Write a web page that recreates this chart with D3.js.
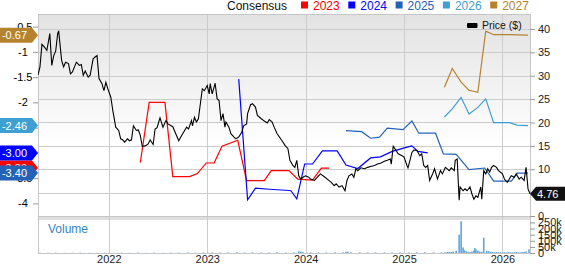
<!DOCTYPE html>
<html>
<head>
<meta charset="utf-8">
<script src="https://cdn.jsdelivr.net/npm/d3@7"></script>
<style>
  body { margin: 0; background: #fff; }
  svg { display: block; font-family: Arial, "Liberation Sans", sans-serif; }
</style>
</head>
<body>
<div id="chart"></div>
<script>
// price history (decimal year, $)
const priceDates = [
  2021.28, 2021.30, 2021.32, 2021.35, 2021.37, 2021.40, 2021.42, 2021.44, 2021.46, 2021.48,
  2021.49, 2021.52, 2021.54, 2021.56, 2021.59, 2021.61, 2021.63, 2021.67, 2021.70, 2021.72,
  2021.74, 2021.76, 2021.79, 2021.81, 2021.84, 2021.86, 2021.88, 2021.90, 2021.93, 2021.95,
  2021.97, 2021.99, 2022.02, 2022.04, 2022.07, 2022.10, 2022.12, 2022.14, 2022.16, 2022.19,
  2022.21, 2022.23, 2022.25, 2022.28, 2022.30, 2022.32, 2022.34, 2022.37, 2022.40, 2022.42,
  2022.45, 2022.47, 2022.49, 2022.52, 2022.55, 2022.58, 2022.60, 2022.65, 2022.68, 2022.71,
  2022.74, 2022.77, 2022.79, 2022.81, 2022.84, 2022.85, 2022.87, 2022.89, 2022.91, 2022.93,
  2022.95, 2022.97, 2023.00, 2023.02, 2023.03, 2023.05, 2023.07, 2023.08, 2023.10, 2023.12,
  2023.14, 2023.16, 2023.18, 2023.19, 2023.22, 2023.24, 2023.27, 2023.29, 2023.32, 2023.35,
  2023.37, 2023.40, 2023.41, 2023.44, 2023.46, 2023.49, 2023.51, 2023.55, 2023.58, 2023.61,
  2023.63, 2023.66, 2023.68, 2023.71, 2023.73, 2023.76, 2023.79, 2023.82, 2023.84, 2023.87,
  2023.89, 2023.91, 2023.93, 2023.95, 2023.98, 2024.00, 2024.03, 2024.05, 2024.09, 2024.12,
  2024.15, 2024.19, 2024.22, 2024.26, 2024.29, 2024.31, 2024.34, 2024.37, 2024.40, 2024.42,
  2024.44, 2024.47, 2024.49, 2024.51, 2024.53, 2024.56, 2024.60, 2024.63, 2024.66, 2024.70,
  2024.73, 2024.76, 2024.80, 2024.83, 2024.86, 2024.87, 2024.89, 2024.92, 2024.94, 2024.98,
  2025.00, 2025.03, 2025.04, 2025.06, 2025.08, 2025.10, 2025.13, 2025.16, 2025.18, 2025.20,
  2025.22, 2025.24, 2025.26, 2025.29, 2025.31, 2025.34, 2025.37, 2025.39, 2025.42, 2025.46,
  2025.48, 2025.51, 2025.52, 2025.54, 2025.56, 2025.57, 2025.60, 2025.62, 2025.64, 2025.67,
  2025.69, 2025.71, 2025.73, 2025.75, 2025.78, 2025.79, 2025.81, 2025.83, 2025.85, 2025.87,
  2025.89, 2025.91, 2025.94, 2025.96, 2026.00, 2026.02, 2026.05, 2026.07, 2026.09, 2026.12,
  2026.14, 2026.17, 2026.19, 2026.22, 2026.24, 2026.26, 2026.28
]
const priceValues = [
  30.2, 31.9, 36.7, 36.0, 35.4, 39.0, 32.2, 34.3, 35.3, 39.0,
  39.6, 33.3, 31.9, 32.9, 32.6, 30.4, 30.8, 32.9, 32.2, 32.4,
  30.1, 31.0, 29.7, 30.1, 33.6, 34.0, 34.3, 29.4, 28.3, 26.8,
  28.6, 27.2, 25.4, 22.6, 19.0, 18.3, 16.5, 16.3, 15.8, 16.5,
  16.1, 16.3, 19.3, 18.3, 18.4, 17.2, 14.9, 15.0, 15.4, 16.3,
  15.3, 18.6, 18.9, 21.0, 19.0, 20.4, 19.7, 19.1, 17.6, 16.1,
  17.2, 18.3, 19.0, 18.6, 20.4, 19.3, 21.1, 20.1, 20.8, 24.0,
  27.2, 26.8, 27.9, 26.1, 28.3, 26.1, 27.6, 28.4, 25.1, 24.7,
  20.4, 21.9, 19.0, 20.1, 19.0, 17.6, 16.9, 16.5, 16.9, 17.9,
  19.3, 19.7, 21.9, 23.8, 24.0, 23.3, 21.5, 20.8, 20.3, 19.9,
  20.6, 20.1, 19.0, 17.6, 17.0, 16.1, 15.1, 14.4, 11.9, 10.8,
  10.4, 11.9, 8.6, 7.9, 8.4, 8.6, 8.3, 7.9, 7.6, 8.3,
  9.0, 8.4, 7.9, 7.2, 6.5, 6.9, 6.2, 6.5, 5.4, 7.6,
  8.6, 9.0, 8.3, 10.1, 9.7, 10.3, 10.1, 10.4, 10.6, 10.8,
  11.1, 11.3, 11.7, 11.9, 12.2, 11.1, 14.9, 14.0, 13.3, 12.9,
  12.6, 10.8, 10.3, 11.9, 13.6, 14.1, 14.0, 12.9, 13.3, 10.8,
  10.4, 10.8, 7.6, 9.0, 10.1, 7.9, 9.7, 9.0, 10.4, 9.7,
  10.3, 9.7, 11.9, 12.2, 3.4, 6.2, 5.4, 5.8, 5.4, 6.2,
  4.7, 3.6, 4.3, 4.0, 6.2, 3.6, 9.7, 9.0, 10.1, 9.4,
  10.4, 10.8, 10.4, 9.7, 9.0, 7.9, 7.2, 7.9, 8.6, 8.3,
  9.0, 7.9, 8.3, 7.6, 10.4, 5.8, 4.76
]

// consensus EPS estimates per fiscal year
const est2023Dates = [2022.32, 2022.41, 2022.57, 2022.65, 2022.82, 2022.90, 2022.99, 2023.07, 2023.15, 2023.31, 2023.40, 2023.58, 2023.65, 2023.83, 2023.92, 2024.07, 2024.16, 2024.24]
const est2023Values = [-3.19, -2.00, -2.00, -3.47, -3.47, -3.41, -3.20, -3.20, -2.87, -2.75, -3.55, -3.55, -3.35, -3.35, -3.52, -3.54, -3.30, -3.30]
const est2024Dates = [2023.32, 2023.41, 2023.49, 2023.63, 2023.80, 2023.85, 2023.91, 2023.99, 2024.07, 2024.17, 2024.32, 2024.41, 2024.53, 2024.66, 2024.76, 2024.88, 2025.04, 2025.08, 2025.14, 2025.24]
const est2024Values = [-1.54, -3.93, -3.70, -3.72, -3.74, -3.75, -3.91, -3.22, -3.22, -2.96, -2.96, -3.24, -3.31, -3.10, -3.08, -2.97, -2.88, -2.86, -2.97, -3.00]
const est2025Dates = [2024.41, 2024.57, 2024.66, 2024.75, 2024.83, 2024.99, 2025.08, 2025.15, 2025.32, 2025.40, 2025.53, 2025.66, 2025.82, 2025.91, 2026.09, 2026.15, 2026.26]
const est2025Values = [-2.56, -2.58, -2.71, -2.69, -2.51, -2.54, -2.37, -2.61, -2.61, -3.02, -3.03, -3.33, -3.30, -3.56, -3.56, -3.40, -3.40]
const est2026Dates = [2025.41, 2025.49, 2025.58, 2025.66, 2025.75, 2025.83, 2025.91, 2026.07, 2026.15, 2026.26]
const est2026Values = [-2.29, -2.13, -1.90, -2.23, -2.10, -1.93, -2.40, -2.40, -2.45, -2.46]
const est2027Dates = [2025.41, 2025.49, 2025.58, 2025.66, 2025.75, 2025.83, 2025.91, 2026.07, 2026.26]
const est2027Values = [-1.70, -1.33, -1.60, -1.76, -1.80, -0.59, -0.66, -0.66, -0.67]

// volume (shares)
const volumeDates = [
  2021.30, 2021.38, 2021.46, 2021.55, 2021.63, 2021.71, 2021.80, 2021.88, 2021.96, 2022.05,
  2022.13, 2022.21, 2022.30, 2022.38, 2022.46, 2022.55, 2022.63, 2022.71, 2022.80, 2022.88,
  2022.96, 2023.05, 2023.13, 2023.21, 2023.30, 2023.38, 2023.46, 2023.55, 2023.63, 2023.71,
  2023.80, 2023.88, 2023.93, 2023.95, 2023.97, 2024.05, 2024.13, 2024.21, 2024.30, 2024.38,
  2024.41, 2024.43, 2024.46, 2024.55, 2024.63, 2024.71, 2024.80, 2024.88, 2024.96, 2025.05,
  2025.13, 2025.21, 2025.30, 2025.38, 2025.42, 2025.44, 2025.46, 2025.48, 2025.50, 2025.53,
  2025.56, 2025.58, 2025.60, 2025.61, 2025.63, 2025.65, 2025.67, 2025.69, 2025.71, 2025.72,
  2025.73, 2025.75, 2025.77, 2025.79, 2025.81, 2025.84, 2025.86, 2025.88, 2025.90, 2025.92,
  2025.94, 2025.96, 2025.98, 2026.00, 2026.02, 2026.04, 2026.06, 2026.08, 2026.10, 2026.12,
  2026.14, 2026.16, 2026.18, 2026.20, 2026.22, 2026.24, 2026.27
]
const volumeValues = [
  2000, 2000, 3000, 2000, 2000, 3000, 2000, 2000, 3000, 2000,
  3000, 2000, 3000, 2000, 3000, 2000, 3000, 3000, 4000, 3000,
  4000, 5000, 4000, 4000, 5000, 4000, 5000, 4000, 4000, 5000,
  4000, 5000, 15000, 12000, 8000, 5000, 5000, 4000, 5000, 5000,
  10000, 12000, 6000, 5000, 4000, 5000, 5000, 4000, 5000, 5000,
  5000, 6000, 5000, 6000, 6000, 8000, 10000, 8000, 12000, 20000,
  150000, 260000, 45000, 25000, 15000, 10000, 8000, 12000, 20000, 40000,
  30000, 20000, 12000, 10000, 125000, 18000, 15000, 10000, 8000, 6000,
  8000, 6000, 5000, 5000, 6000, 5000, 8000, 6000, 5000, 6000,
  8000, 6000, 5000, 8000, 10000, 12000, 30000
]

const yearTicks = [2022, 2023, 2024, 2025, 2026]
const priceTicks = [0, 5, 10, 15, 20, 25, 30, 35, 40]
const epsTicks = [-4, -3.5, -3, -2.5, -2, -1.5, -1, -0.5]
const volumeTicks = [0, 50000, 100000, 150000, 200000, 250000]
const consensusYears = ["2023", "2024", "2025", "2026", "2027"]
const consensusColors = ["#ff0000", "#0000ff", "#2462b8", "#3ea0d2", "#b5832e"]

const width = 565
const height = 264
const plotLeft = 38, plotRight = 530, plotTop = 14
const mainBottom = 216, volTop = 220, volBottom = 253

const x = d3.scaleLinear().domain([2021.28, 2026.28]).range([plotLeft, plotRight])
const yPrice = d3.scaleLinear().domain([0, 43.2]).range([mainBottom, plotTop])
const yEps = d3.scaleLinear().domain([-4.25, -0.25]).range([mainBottom, plotTop])
const yVol = d3.scaleLinear().domain([0, 270000]).range([volBottom, volTop])

const svg = d3.select("#chart").append("svg")
    .attr("width", width)
    .attr("height", height)

// background gradient for price panel
const defs = svg.append("defs")
const grad = defs.append("linearGradient")
    .attr("id", "bg").attr("x1", 0).attr("y1", 0).attr("x2", 0).attr("y2", 1)
grad.append("stop").attr("offset", "0%").attr("stop-color", "#e2e2e2")
grad.append("stop").attr("offset", "65%").attr("stop-color", "#ffffff")
defs.append("clipPath").attr("id", "clip")
  .append("rect").attr("x", plotLeft).attr("y", plotTop)
  .attr("width", plotRight - plotLeft).attr("height", mainBottom - plotTop)

svg.append("rect")
    .attr("x", plotLeft).attr("y", plotTop)
    .attr("width", plotRight - plotLeft).attr("height", mainBottom - plotTop)
    .attr("fill", "url(#bg)")

// volume panel header band
svg.append("rect")
    .attr("x", plotLeft).attr("y", mainBottom)
    .attr("width", plotRight - plotLeft).attr("height", volTop - mainBottom)
    .attr("fill", "#dedede")

// grid
svg.append("g").selectAll("line")
    .data(priceTicks.filter(d => d > 0))
    .enter().append("line")
    .attr("x1", plotLeft).attr("x2", plotRight)
    .attr("y1", d => Math.round(yPrice(d)) + 0.5).attr("y2", d => Math.round(yPrice(d)) + 0.5)
    .attr("stroke", "#cccccc")

svg.append("g").selectAll("line")
    .data(yearTicks)
    .enter().append("line")
    .attr("x1", d => Math.round(x(d)) + 0.5).attr("x2", d => Math.round(x(d)) + 0.5)
    .attr("y1", plotTop).attr("y2", volBottom)
    .attr("stroke", "#cccccc")

// panel borders
svg.append("rect")
    .attr("x", plotLeft + 0.5).attr("y", plotTop + 0.5)
    .attr("width", plotRight - plotLeft).attr("height", mainBottom - plotTop)
    .attr("fill", "none").attr("stroke", "#c6c6c6")
svg.append("rect")
    .attr("x", plotLeft + 0.5).attr("y", mainBottom + 0.5)
    .attr("width", plotRight - plotLeft).attr("height", volBottom - mainBottom)
    .attr("fill", "none").attr("stroke", "#c6c6c6")

// volume bars
svg.append("g").selectAll("rect")
    .data(d3.zip(volumeDates, volumeValues))
    .enter().append("rect")
    .attr("x", d => x(d[0]) - 0.8)
    .attr("width", 1.6)
    .attr("y", d => yVol(d[1]))
    .attr("height", d => volBottom - yVol(d[1]))
    .attr("fill", "#62a5dc")

svg.append("text")
    .attr("x", 48).attr("y", 233)
    .attr("font-size", 12)
    .attr("fill", "#3585c6")
    .text("Volume")

// consensus lines
const epsLine = d3.line().x(d => x(d[0])).y(d => yEps(d[1]))
const estimates = [
  d3.zip(est2023Dates, est2023Values),
  d3.zip(est2024Dates, est2024Values),
  d3.zip(est2025Dates, est2025Values),
  d3.zip(est2026Dates, est2026Values),
  d3.zip(est2027Dates, est2027Values)
]
const plot = svg.append("g").attr("clip-path", "url(#clip)")
plot.selectAll("path.est")
    .data(estimates)
    .enter().append("path")
    .attr("class", "est")
    .attr("d", epsLine)
    .attr("fill", "none")
    .attr("stroke", (d, i) => consensusColors[i])
    .attr("stroke-width", 1.2)

// price line
const priceLine = d3.line().x(d => x(d[0])).y(d => yPrice(d[1]))
plot.append("path")
    .datum(d3.zip(priceDates, priceValues))
    .attr("d", priceLine)
    .attr("fill", "none")
    .attr("stroke", "#000")
    .attr("stroke-width", 1.1)

// axes
function styleAxis(g) {
  g.select(".domain").remove()
  g.selectAll(".tick line").attr("stroke", "#999")
  g.selectAll("text").attr("font-size", 11).attr("fill", "#222")
  g.attr("font-family", null).attr("font-size", null)
}

svg.append("g")
    .attr("transform", "translate(" + plotRight + ",0)")
    .call(d3.axisRight(yPrice).tickValues(priceTicks).tickSize(5).tickPadding(3))
    .call(styleAxis)

svg.append("g")
    .attr("transform", "translate(" + plotRight + ",0)")
    .call(d3.axisRight(yVol).tickValues(volumeTicks).tickSize(5).tickPadding(3)
      .tickFormat(d => d === 0 ? "0" : (d / 1000) + "k"))
    .call(styleAxis)

const leftAxis = svg.append("g")
    .attr("transform", "translate(" + plotLeft + ",0)")
    .call(d3.axisLeft(yEps).tickValues(epsTicks).tickSize(5).tickFormat(d => String(d)))
    .call(styleAxis)
leftAxis.selectAll("text").attr("text-anchor", "middle").attr("x", -15).attr("fill", "#000")

svg.append("g")
    .attr("transform", "translate(0," + volBottom + ")")
    .call(d3.axisBottom(x).tickValues(yearTicks).tickSize(0).tickPadding(2).tickFormat(d3.format("d")))
    .call(styleAxis)

// left value badges (2023 first so the others sit on top of it)
const badgeOrder = [0, 4, 3, 1, 2]
badgeOrder.forEach(i => {
  const vals = estimates[i]
  const last = vals[vals.length - 1][1]
  const yy = yEps(last)
  svg.append("path")
      .attr("d", "M0," + (yy - 7.5) + "H32L38," + yy + "L32," + (yy + 7.5) + "H0Z")
      .attr("fill", consensusColors[i])
  svg.append("text")
      .attr("x", 27).attr("y", yy + 4)
      .attr("text-anchor", "end")
      .attr("font-size", 11)
      .attr("fill", "#fff")
      .text(last.toFixed(2))
})

// last price badge
const lastPrice = priceValues[priceValues.length - 1]
const py = yPrice(lastPrice)
svg.append("path")
    .attr("d", "M" + plotRight + "," + py + "L536," + (py - 7) + "H565V" + (py + 7) + "H536Z")
    .attr("fill", "#111")
svg.append("text")
    .attr("x", 537).attr("y", py + 4)
    .attr("font-size", 11)
    .attr("fill", "#fff")
    .text(lastPrice.toFixed(2))

// top legend
svg.append("text")
    .attr("x", 227).attr("y", 9.5)
    .attr("font-size", 12)
    .attr("fill", "#111")
    .text("Consensus")

const legend = svg.append("g").selectAll("g")
    .data(consensusYears)
    .enter().append("g")
    .attr("transform", (d, i) => "translate(" + (301 + i * 47.3) + ",0)")
legend.append("rect")
    .attr("x", 0).attr("y", 1.5)
    .attr("width", 7).attr("height", 7)
    .attr("fill", (d, i) => consensusColors[i])
legend.append("text")
    .attr("x", 12).attr("y", 9.5)
    .attr("font-size", 12)
    .attr("fill", (d, i) => consensusColors[i])
    .text(d => d)

// price legend
svg.append("rect")
    .attr("x", 467).attr("y", 23)
    .attr("width", 10.5).attr("height", 5)
    .attr("rx", 1)
    .attr("fill", "#000")
svg.append("text")
    .attr("x", 482).attr("y", 29)
    .attr("font-size", 10.5)
    .attr("fill", "#111")
    .text("Price ($)")
</script>
</body>
</html>
